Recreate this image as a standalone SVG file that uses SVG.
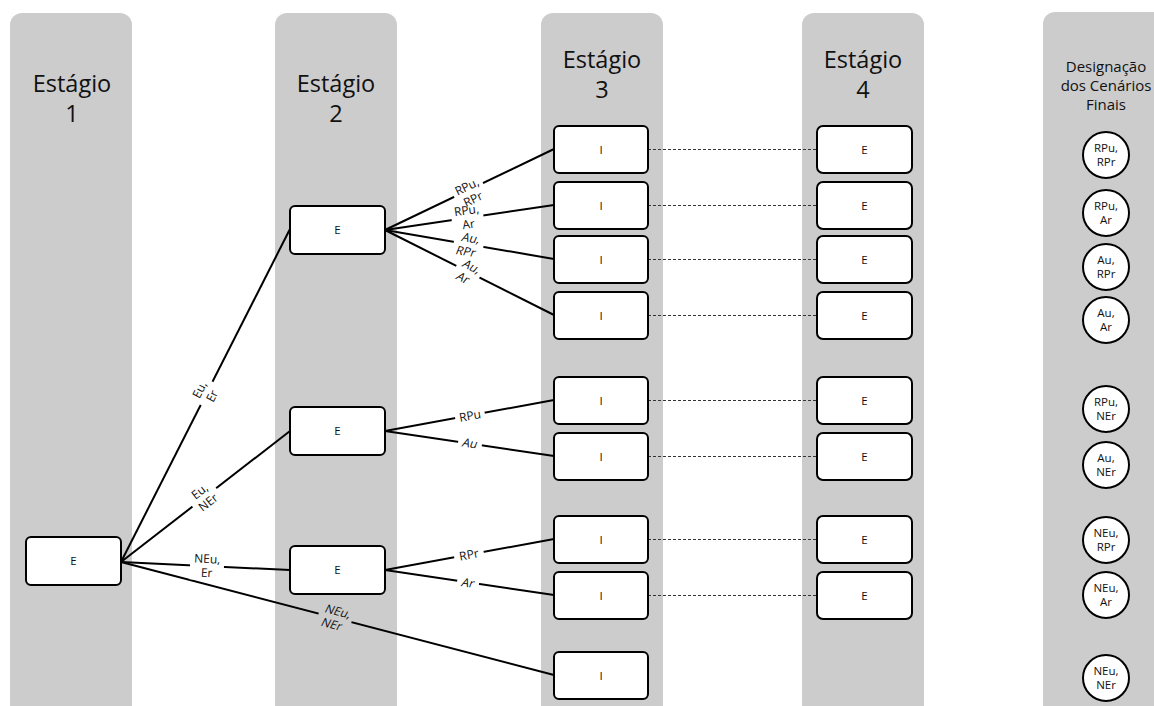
<svg xmlns="http://www.w3.org/2000/svg" width="1154" height="706" viewBox="0 0 1154 706">
<style>
.lane{fill:#cccccc}
.title{font-family:"Open Sans","Liberation Sans",sans-serif;font-size:23.5px;fill:#111;text-anchor:middle}
.hdr{font-family:"Open Sans","Liberation Sans",sans-serif;font-size:15px;fill:#111;text-anchor:middle}
.box{fill:#fff;stroke:#000;stroke-width:2}
.bt{font-family:"Open Sans","Liberation Sans",sans-serif;font-size:11.5px;fill:#111;text-anchor:middle}
.ct{font-family:"Open Sans","Liberation Sans",sans-serif;font-size:11.5px;fill:#111;text-anchor:middle}
.edge{stroke:#000;stroke-width:2;fill:none}
.dot{stroke:#333;stroke-width:1;stroke-dasharray:3 2;fill:none}
.lt{font-family:"Open Sans","Liberation Sans",sans-serif;font-size:12px;fill:#111;text-anchor:middle}
</style>
<defs>
<mask id="gaps" maskUnits="userSpaceOnUse" x="0" y="0" width="1154" height="706">
<rect x="0" y="0" width="1154" height="706" fill="#fff"/>
<g fill="#000">
<rect transform="translate(206,393) rotate(-63.2)" x="-13" y="-14" width="26" height="28"/>
<rect transform="translate(204,497) rotate(-37.8)" x="-15" y="-14" width="30" height="28"/>
<rect transform="translate(207,566) rotate(2.7)" x="-17" y="-14" width="34" height="28"/>
<rect transform="translate(335,618) rotate(14.7)" x="-17" y="-14" width="34" height="28"/>
<rect transform="translate(470,193) rotate(-25.6)" x="-16" y="-14" width="32" height="28"/>
<rect transform="translate(467.5,217.5) rotate(-8.4)" x="-16" y="-14" width="32" height="28"/>
<rect transform="translate(468.5,245) rotate(9.4)" x="-15" y="-14" width="30" height="28"/>
<rect transform="translate(467.5,272.5) rotate(26.4)" x="-13" y="-14" width="26" height="28"/>
<rect transform="translate(470,416) rotate(-10.2)" x="-15" y="-6" width="30" height="12"/>
<rect transform="translate(470,443.5) rotate(8.6)" x="-12" y="-6" width="24" height="12"/>
<rect transform="translate(469,555) rotate(-10.2)" x="-15" y="-6" width="30" height="12"/>
<rect transform="translate(468,583) rotate(8.6)" x="-11" y="-6" width="22" height="12"/>
</g>
</mask>
</defs>
<g id="lanes">
<rect class="lane" x="10" y="13" width="122" height="710" rx="12"/>
<rect class="lane" x="275" y="13" width="122" height="710" rx="12"/>
<rect class="lane" x="541" y="13" width="122" height="710" rx="12"/>
<rect class="lane" x="802" y="13" width="122" height="710" rx="12"/>
<rect class="lane" x="1043" y="12" width="130" height="710" rx="12"/>
<text class="title" x="72" y="92">Estágio</text>
<text class="title" x="72" y="122">1</text>
<text class="title" x="336" y="92">Estágio</text>
<text class="title" x="336" y="122">2</text>
<text class="title" x="602" y="68">Estágio</text>
<text class="title" x="602" y="98">3</text>
<text class="title" x="863" y="68">Estágio</text>
<text class="title" x="863" y="98">4</text>
<text class="hdr" x="1106" y="72">Designação</text>
<text class="hdr" x="1106" y="91">dos Cenários</text>
<text class="hdr" x="1106" y="110">Finais</text>
</g>
<g id="connectors">
<g mask="url(#gaps)">
<line class="edge" x1="121" y1="562" x2="290" y2="229"/>
<line class="edge" x1="121" y1="562" x2="290" y2="431"/>
<line class="edge" x1="121" y1="562" x2="290" y2="570"/>
<line class="edge" x1="121" y1="562" x2="554" y2="675"/>
<line class="edge" x1="385" y1="230" x2="554" y2="149"/>
<line class="edge" x1="385" y1="230" x2="554" y2="205"/>
<line class="edge" x1="385" y1="230" x2="554" y2="259"/>
<line class="edge" x1="385" y1="230" x2="554" y2="315"/>
<line class="edge" x1="385" y1="431" x2="554" y2="400"/>
<line class="edge" x1="385" y1="431" x2="554" y2="456"/>
<line class="edge" x1="385" y1="570" x2="554" y2="539"/>
<line class="edge" x1="385" y1="570" x2="554" y2="595"/>
</g>
<line class="dot" x1="648" y1="149.5" x2="817" y2="149.5"/>
<line class="dot" x1="648" y1="205.5" x2="817" y2="205.5"/>
<line class="dot" x1="648" y1="259.5" x2="817" y2="259.5"/>
<line class="dot" x1="648" y1="315.5" x2="817" y2="315.5"/>
<line class="dot" x1="648" y1="400.5" x2="817" y2="400.5"/>
<line class="dot" x1="648" y1="456.5" x2="817" y2="456.5"/>
<line class="dot" x1="648" y1="539.5" x2="817" y2="539.5"/>
<line class="dot" x1="648" y1="595.5" x2="817" y2="595.5"/>
<g transform="translate(206,393) rotate(-63.2)"><text class="lt" x="0" y="-3">Eu,</text><text class="lt" x="0" y="11">Er</text></g>
<g transform="translate(204,497) rotate(-37.8)"><text class="lt" x="0" y="-3">Eu,</text><text class="lt" x="0" y="11">NEr</text></g>
<g transform="translate(207,566) rotate(2.7)"><text class="lt" x="0" y="-3">NEu,</text><text class="lt" x="0" y="11">Er</text></g>
<g transform="translate(335,618) rotate(14.7) skewX(-12)"><text class="lt" x="0" y="-3">NEu,</text><text class="lt" x="0" y="11">NEr</text></g>
<g transform="translate(470,193) rotate(-25.6)"><text class="lt" x="0" y="-3">RPu,</text><text class="lt" x="0" y="11">RPr</text></g>
<g transform="translate(467.5,217.5) rotate(-8.4)"><text class="lt" x="0" y="-3">RPu,</text><text class="lt" x="0" y="11">Ar</text></g>
<g transform="translate(468.5,245) rotate(9.4) skewX(-12)"><text class="lt" x="0" y="-3">Au,</text><text class="lt" x="0" y="11">RPr</text></g>
<g transform="translate(467.5,272.5) rotate(26.4) skewX(-12)"><text class="lt" x="0" y="-3">Au,</text><text class="lt" x="0" y="11">Ar</text></g>
<g transform="translate(470,416) rotate(-10.2)"><text class="lt" x="0" y="4">RPu</text></g>
<g transform="translate(470,443.5) rotate(8.6) skewX(-12)"><text class="lt" x="0" y="4">Au</text></g>
<g transform="translate(469,555) rotate(-10.2)"><text class="lt" x="0" y="4">RPr</text></g>
<g transform="translate(468,583) rotate(8.6) skewX(-12)"><text class="lt" x="0" y="4">Ar</text></g>
</g>
<g id="s1-e"><rect class="box" x="26" y="537" width="95" height="48" rx="5"/><text class="bt" x="73.5" y="565">E</text></g>
<g id="s2-e1"><rect class="box" x="290" y="206" width="95" height="48" rx="5"/><text class="bt" x="337.5" y="234">E</text></g>
<g id="s2-e2"><rect class="box" x="290" y="407" width="95" height="48" rx="5"/><text class="bt" x="337.5" y="435">E</text></g>
<g id="s2-e3"><rect class="box" x="290" y="546" width="95" height="48" rx="5"/><text class="bt" x="337.5" y="574">E</text></g>
<g id="s3-i1"><rect class="box" x="554" y="126" width="94" height="47" rx="5"/><text class="bt" x="601" y="153.5">I</text></g>
<g id="s3-i2"><rect class="box" x="554" y="182" width="94" height="47" rx="5"/><text class="bt" x="601" y="209.5">I</text></g>
<g id="s3-i3"><rect class="box" x="554" y="236" width="94" height="47" rx="5"/><text class="bt" x="601" y="263.5">I</text></g>
<g id="s3-i4"><rect class="box" x="554" y="292" width="94" height="47" rx="5"/><text class="bt" x="601" y="319.5">I</text></g>
<g id="s3-i5"><rect class="box" x="554" y="377" width="94" height="47" rx="5"/><text class="bt" x="601" y="404.5">I</text></g>
<g id="s3-i6"><rect class="box" x="554" y="433" width="94" height="47" rx="5"/><text class="bt" x="601" y="460.5">I</text></g>
<g id="s3-i7"><rect class="box" x="554" y="516" width="94" height="47" rx="5"/><text class="bt" x="601" y="543.5">I</text></g>
<g id="s3-i8"><rect class="box" x="554" y="572" width="94" height="47" rx="5"/><text class="bt" x="601" y="599.5">I</text></g>
<g id="s3-i9"><rect class="box" x="554" y="652" width="94" height="47" rx="5"/><text class="bt" x="601" y="679.5">I</text></g>
<g id="s4-e1"><rect class="box" x="817" y="126" width="95" height="47" rx="6"/><text class="bt" x="864.5" y="153.5">E</text></g>
<g id="s4-e2"><rect class="box" x="817" y="182" width="95" height="47" rx="6"/><text class="bt" x="864.5" y="209.5">E</text></g>
<g id="s4-e3"><rect class="box" x="817" y="236" width="95" height="47" rx="6"/><text class="bt" x="864.5" y="263.5">E</text></g>
<g id="s4-e4"><rect class="box" x="817" y="292" width="95" height="47" rx="6"/><text class="bt" x="864.5" y="319.5">E</text></g>
<g id="s4-e5"><rect class="box" x="817" y="377" width="95" height="47" rx="6"/><text class="bt" x="864.5" y="404.5">E</text></g>
<g id="s4-e6"><rect class="box" x="817" y="433" width="95" height="47" rx="6"/><text class="bt" x="864.5" y="460.5">E</text></g>
<g id="s4-e7"><rect class="box" x="817" y="516" width="95" height="47" rx="6"/><text class="bt" x="864.5" y="543.5">E</text></g>
<g id="s4-e8"><rect class="box" x="817" y="572" width="95" height="47" rx="6"/><text class="bt" x="864.5" y="599.5">E</text></g>
<g id="c1"><circle class="box" cx="1106" cy="155" r="23"/><text class="ct" x="1106" y="152">RPu,</text><text class="ct" x="1106" y="166">RPr</text></g>
<g id="c2"><circle class="box" cx="1106" cy="213" r="23"/><text class="ct" x="1106" y="210">RPu,</text><text class="ct" x="1106" y="224">Ar</text></g>
<g id="c3"><circle class="box" cx="1106" cy="267" r="23"/><text class="ct" x="1106" y="264">Au,</text><text class="ct" x="1106" y="278">RPr</text></g>
<g id="c4"><circle class="box" cx="1106" cy="320" r="23"/><text class="ct" x="1106" y="317">Au,</text><text class="ct" x="1106" y="331">Ar</text></g>
<g id="c5"><circle class="box" cx="1106" cy="409" r="23"/><text class="ct" x="1106" y="406">RPu,</text><text class="ct" x="1106" y="420">NEr</text></g>
<g id="c6"><circle class="box" cx="1106" cy="465" r="23"/><text class="ct" x="1106" y="462">Au,</text><text class="ct" x="1106" y="476">NEr</text></g>
<g id="c7"><circle class="box" cx="1106" cy="540" r="23"/><text class="ct" x="1106" y="537">NEu,</text><text class="ct" x="1106" y="551">RPr</text></g>
<g id="c8"><circle class="box" cx="1106" cy="595" r="23"/><text class="ct" x="1106" y="592">NEu,</text><text class="ct" x="1106" y="606">Ar</text></g>
<g id="c9"><circle class="box" cx="1106" cy="678" r="23"/><text class="ct" x="1106" y="675">NEu,</text><text class="ct" x="1106" y="689">NEr</text></g>
</svg>
